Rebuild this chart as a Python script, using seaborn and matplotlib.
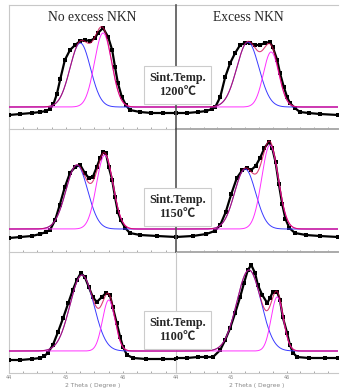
import numpy as np
import pandas as pd
import matplotlib
matplotlib.use("Agg")
import matplotlib.pyplot as plt
import seaborn as sns
from matplotlib.ticker import MultipleLocator, FixedLocator

sns.set_style("white")
plt.rcParams['font.family'] = ['Liberation Serif', 'Noto Sans CJK SC', 'DejaVu Sans']

# ---------------- data ----------------
col_titles = ["No excess NKN", "Excess NKN"]
row_labels = ["Sint.Temp.\n1200℃", "Sint.Temp.\n1150℃", "Sint.Temp.\n1100℃"]
tick_values = [44, 45, 46]
tick_labels = ["44", "45", "46"]
x_label = "2 Theta ( Degree )"

# measured points (2theta, intensity a.u.)
r1l_theta = [44.00, 44.20, 44.40, 44.55, 44.65, 44.72, 44.78, 44.84, 44.90, 44.98, 45.07, 45.16, 45.25,
             45.33, 45.42, 45.51, 45.56, 45.65, 45.74, 45.81, 45.86, 45.91, 45.98, 46.05, 46.12, 46.30,
             46.50, 46.70, 46.93]
r1l_int = [14, 15, 16, 17, 18, 20, 25, 35, 50, 69, 79, 84, 88,
           89, 88, 91, 96, 101, 92, 79, 62, 46, 32, 24, 19, 17,
           16, 16, 16]

r1r_theta = [44.00, 44.20, 44.40, 44.55, 44.65, 44.71, 44.80, 44.89, 44.98, 45.07, 45.16, 45.25, 45.34,
             45.43, 45.52, 45.61, 45.70, 45.75, 45.83, 45.88, 45.95, 46.01, 46.06, 46.15, 46.24, 46.40,
             46.60, 46.93]
r1r_int = [16, 16, 17, 18, 20, 22, 32, 52, 66, 76, 84, 86, 86,
           84, 84, 86, 87, 82, 69, 56, 42, 32, 26, 21, 17, 16,
           15, 14]

r2l_theta = [44.00, 44.20, 44.40, 44.55, 44.65, 44.72, 44.81, 44.89, 44.98, 45.07, 45.16, 45.25, 45.33,
             45.40, 45.47, 45.54, 45.60, 45.65, 45.70, 45.75, 45.81, 45.86, 45.91, 45.96, 46.04, 46.12,
             46.30, 46.60, 46.93]
r2l_int = [14, 15, 16, 18, 20, 22, 32, 47, 65, 79, 85, 87, 79,
           74, 75, 85, 94, 100, 99, 85, 72, 55, 40, 32, 24, 19,
           17, 16, 15]

r2r_theta = [44.00, 44.30, 44.55, 44.70, 44.80, 44.90, 45.00, 45.10, 45.20, 45.28, 45.36, 45.44, 45.52,
             45.60, 45.68, 45.74, 45.80, 45.86, 45.92, 45.98, 46.05, 46.15, 46.35, 46.60, 46.93]
r2r_int = [15, 16, 18, 21, 27, 40, 58, 74, 82, 84, 82, 86, 94,
           104, 110, 104, 90, 68, 48, 33, 24, 19, 17, 16, 15]

r3l_theta = [44.00, 44.20, 44.40, 44.55, 44.62, 44.68, 44.77, 44.86, 44.95, 45.04, 45.12, 45.19, 45.26,
             45.33, 45.40, 45.47, 45.54, 45.63, 45.70, 45.77, 45.82, 45.89, 45.95, 46.00, 46.07, 46.18,
             46.40, 46.70, 46.93]
r3l_int = [13, 13, 14, 15, 17, 20, 28, 41, 55, 70, 83, 93, 100,
           96, 86, 76, 71, 76, 80, 78, 66, 50, 36, 26, 18, 15,
           14, 14, 14]

r3r_theta = [44.00, 44.20, 44.40, 44.55, 44.67, 44.80, 44.89, 44.98, 45.07, 45.16, 45.23, 45.30, 45.36,
             45.43, 45.48, 45.56, 45.65, 45.70, 45.75, 45.83, 45.88, 45.93, 46.01, 46.06, 46.12, 46.19,
             46.40, 46.70, 46.93]
r3r_int = [15, 15, 16, 16, 16, 23, 33, 45, 60, 76, 90, 103, 108,
           100, 88, 78, 70, 75, 81, 81, 73, 56, 40, 28, 20, 16,
           15, 15, 15]

# fitted peaks: baseline, (center, height, sigma) for the two components
fit_base = [22, 22, 23, 23, 22, 22]
blue_center = [45.25, 45.30, 45.19, 45.25, 45.28, 45.32]
blue_height = [64, 65, 64, 60, 76, 81]
blue_sigma = [0.18, 0.20, 0.19, 0.19, 0.21, 0.22]
mag_center = [45.65, 45.72, 45.68, 45.70, 45.75, 45.83]
mag_height = [74, 55, 74, 84, 51, 54]
mag_sigma = [0.15, 0.14, 0.145, 0.15, 0.11, 0.11]

panels = [(r1l_theta, r1l_int), (r1r_theta, r1r_int),
          (r2l_theta, r2l_int), (r2r_theta, r2r_int),
          (r3l_theta, r3l_int), (r3r_theta, r3r_int)]

# ---------------- layout ----------------
W, H = 340, 391
fig = plt.figure(figsize=(W / 100, H / 100), dpi=100)
col_x = [(9, 176), (176, 338)]
row_y = [(5, 129), (129, 252), (252, 373)]

light = '#c8c8c8'
grid_theta = np.linspace(44, 46.93, 500)

for r in range(3):
    for c in range(2):
        i = r * 2 + c
        x0, x1 = col_x[c]
        y0, y1 = row_y[r]
        ax = fig.add_axes([x0 / W, 1 - y1 / H, (x1 - x0) / W, (y1 - y0) / H])
        ax.set_facecolor('none')
        th, it = panels[i]
        b = fit_base[i]
        blue = b + blue_height[i] * np.exp(-(grid_theta - blue_center[i]) ** 2 / (2 * blue_sigma[i] ** 2))
        mag = b + mag_height[i] * np.exp(-(grid_theta - mag_center[i]) ** 2 / (2 * mag_sigma[i] ** 2))
        tot = blue + mag - b
        df = pd.DataFrame({'theta': th, 'I': it})
        sns.lineplot(data=df, x='theta', y='I', ax=ax, color='black', lw=1.6, zorder=2)
        sns.scatterplot(data=df, x='theta', y='I', ax=ax, color='black', marker='s', s=7,
                        linewidth=0, zorder=3)
        sns.lineplot(x=grid_theta, y=blue, ax=ax, color='#3a3aff', lw=0.7, zorder=4)
        sns.lineplot(x=grid_theta, y=mag, ax=ax, color='#ff30ff', lw=0.7, zorder=4)
        sns.lineplot(x=grid_theta, y=tot, ax=ax, color='#d0004a', lw=0.8, alpha=0.75, zorder=5)
        ax.set_xlim(44, 46.93)
        ax.set_ylim(0, y1 - y0)
        ax.set_xlabel('')
        ax.set_ylabel('')
        ax.set_yticks([])
        ax.xaxis.set_major_locator(FixedLocator(tick_values))
        ax.xaxis.set_minor_locator(MultipleLocator(0.25))
        ax.tick_params(axis='x', which='both', direction='in', length=1.5, width=0.6,
                       color='#999999', bottom=True)
        if r == 2:
            ax.set_xticklabels(tick_labels, fontsize=3.5, color='#888888', family='DejaVu Sans')
            ax.tick_params(axis='x', pad=1.5)
            ax.set_xlabel(x_label, fontsize=4.3, color='#888888', family='DejaVu Sans', labelpad=2)
        else:
            ax.set_xticklabels([])
        for s in ['top', 'right', 'left', 'bottom']:
            ax.spines[s].set_visible(False)
        ax.spines['bottom'].set_visible(True)
        ax.spines['bottom'].set_color(light)
        ax.spines['bottom'].set_linewidth(0.8)
        ax.spines['left'].set_visible(True)
        ax.spines['left'].set_color(light)
        ax.spines['left'].set_linewidth(0.8)
        if r == 0:
            ax.spines['top'].set_visible(True)
            ax.spines['top'].set_color(light)
            ax.spines['top'].set_linewidth(0.8)
        if c == 1 and r < 2:
            ax.spines['left'].set_color('#555555')
            ax.spines['left'].set_linewidth(1.2)
            ax.spines['left'].set_zorder(10)
            ax.spines['bottom'].set_color('#aaaaaa')
            ax.spines['bottom'].set_linewidth(1.4)
        if r == 0:
            ax.text([0.5, 0.445][c], 0.9, col_titles[c], transform=ax.transAxes, ha='center',
                    va='center', fontsize=9.8)

box_y = [85, 207, 330]
for r in range(3):
    fig.text(177.5 / W, 1 - box_y[r] / H, row_labels[r], ha='center', va='center', fontsize=8.8,
             fontweight='bold', linespacing=1.3, zorder=20,
             bbox=dict(boxstyle='square,pad=0.45', fc='white', ec='#cccccc', lw=0.8))

fig.savefig('out.png', dpi=100)
